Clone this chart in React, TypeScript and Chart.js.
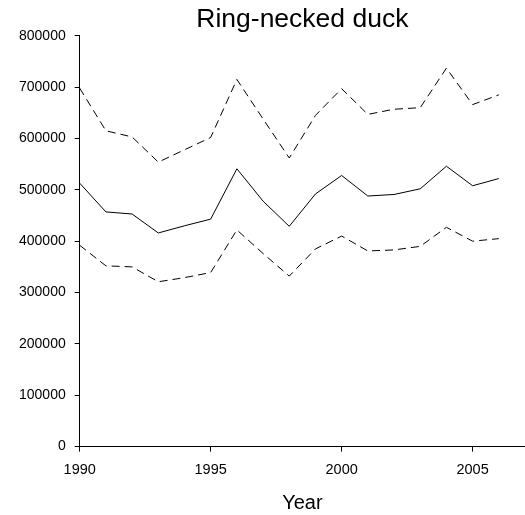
import React, { useEffect, useRef } from "react";
import { Chart, registerables } from "chart.js";

Chart.register(...registerables);

const years = [1990, 1991, 1992, 1993, 1994, 1995, 1996, 1997, 1998, 1999, 2000, 2001, 2002, 2003, 2004, 2005, 2006];
const estimate = [513000, 457000, 453000, 416000, 430000, 443000, 541000, 478000, 429000, 492000, 528000, 488000, 491000, 502000, 546000, 508000, 522000];
const upper = [698000, 615000, 603000, 554000, 578000, 602000, 715000, 638000, 562000, 645000, 697000, 647000, 657000, 660000, 737000, 666000, 685000];
const lower = [392000, 352000, 350000, 321000, 329000, 339000, 422000, 376000, 332000, 385000, 410000, 381000, 383000, 390000, 427000, 400000, 405000];

const titleText = "Ring-necked duck";
const xTitle = "Year";

const FONT = "'Liberation Sans', Arial, sans-serif";

export default function App() {
  const ref = useRef<HTMLCanvasElement | null>(null);

  useEffect(() => {
    document.body.style.margin = "0";
    const canvas = ref.current;
    if (!canvas) return;
    const toPts = (arr: number[]) => years.map((y, i) => ({ x: y, y: arr[i] }));
    const common = {
      borderColor: "#000",
      borderWidth: 1,
      pointRadius: 0,
      tension: 0,
      fill: false,
    };
    const chart = new Chart(canvas, {
      type: "line",
      data: {
        datasets: [
          { ...common, label: "Upper", data: toPts(upper), borderDash: [8, 5] },
          { ...common, label: "Estimate", data: toPts(estimate) },
          { ...common, label: "Lower", data: toPts(lower), borderDash: [8, 5] },
        ],
      },
      options: {
        animation: false,
        responsive: true,
        maintainAspectRatio: false,
        layout: { padding: { left: 10, right: 0, top: 0, bottom: 0 } },
        plugins: {
          legend: { display: false },
          tooltip: { enabled: false },
          title: {
            display: true,
            text: titleText,
            fullSize: false,
            color: "#000",
            font: { family: FONT, size: 26.5, weight: "normal", lineHeight: 1.2 },
            padding: { top: 4, bottom: 0 },
          },
        },
        scales: {
          x: {
            type: "linear",
            min: 1990,
            max: 2007,
            border: { display: true, color: "#000", width: 1 },
            grid: { drawOnChartArea: false, drawTicks: true, tickLength: 5, color: "#000" },
            ticks: {
              stepSize: 5,
              includeBounds: false,
              autoSkip: false,
              maxRotation: 0,
              padding: 10,
              color: "#000",
              font: { family: FONT, size: 14.5 },
              callback: (v: any) => String(v),
            },
            title: {
              display: true,
              text: xTitle,
              color: "#000",
              font: { family: FONT, size: 20, lineHeight: 1.2 },
              padding: { top: 2, bottom: 0 },
            },
          },
          y: {
            type: "linear",
            min: 0,
            max: 800000,
            border: { display: true, color: "#000", width: 1 },
            grid: { drawOnChartArea: false, drawTicks: true, tickLength: 5, color: "#000" },
            ticks: {
              stepSize: 100000,
              padding: 9,
              color: "#000",
              font: { family: FONT, size: 14 },
              callback: (v: any) => String(v),
            },
          },
        },
      },
    });
    return () => chart.destroy();
  }, []);

  return (
    <div style={{ position: "relative", width: 525, height: 515 }}>
      <canvas ref={ref} />
    </div>
  );
}
